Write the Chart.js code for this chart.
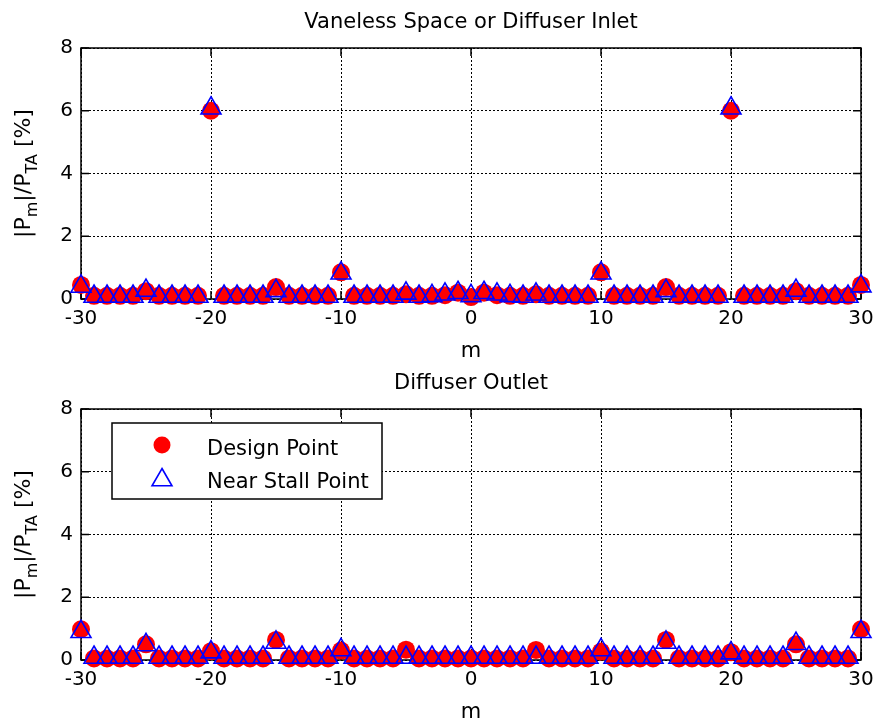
<!DOCTYPE html>
<html>
<head>
<meta charset="utf-8">
<script src="https://cdn.jsdelivr.net/npm/chart.js@4.4.1/dist/chart.umd.min.js"></script>
<style>
  html, body { margin: 0; padding: 0; background: #fff; overflow: hidden; width: 883px; height: 725px; }
  canvas { position: absolute; left: 0; }
  #inlet { top: 0; }
  #outlet { top: 361px; }
</style>
</head>
<body>
<canvas id="inlet" width="883" height="383"></canvas>
<canvas id="outlet" width="883" height="383"></canvas>
<script>
// circumferential mode number m
const modes = [-30, -29, -28, -27, -26, -25, -24, -23, -22, -21, -20, -19, -18, -17, -16, -15,
  -14, -13, -12, -11, -10, -9, -8, -7, -6, -5, -4, -3, -2, -1, 0, 1, 2, 3, 4, 5, 6, 7, 8, 9,
  10, 11, 12, 13, 14, 15, 16, 17, 18, 19, 20, 21, 22, 23, 24, 25, 26, 27, 28, 29, 30];
const xTicks = [-30, -20, -10, 0, 10, 20, 30];
const yTicks = [0, 2, 4, 6, 8];

// |Pm|/PTA [%], vaneless space / diffuser inlet
const inletDesign = [0.45, 0.10, 0.10, 0.10, 0.10, 0.25, 0.10, 0.10, 0.10, 0.10, 6.00, 0.10, 0.10, 0.10, 0.10, 0.38,
  0.10, 0.10, 0.10, 0.10, 0.85, 0.10, 0.10, 0.10, 0.10, 0.15, 0.10, 0.10, 0.12, 0.20, 0.06, 0.20, 0.12, 0.10, 0.10, 0.15,
  0.10, 0.10, 0.10, 0.10, 0.85, 0.10, 0.10, 0.10, 0.10, 0.38, 0.10, 0.10, 0.10, 0.10, 6.00, 0.10, 0.10, 0.10, 0.10, 0.25,
  0.10, 0.10, 0.10, 0.10, 0.45];
const inletStall = [0.40, 0.08, 0.08, 0.08, 0.08, 0.27, 0.08, 0.08, 0.08, 0.08, 6.08, 0.08, 0.08, 0.08, 0.08, 0.26,
  0.08, 0.08, 0.08, 0.08, 0.82, 0.08, 0.08, 0.08, 0.08, 0.18, 0.08, 0.10, 0.15, 0.20, 0.10, 0.20, 0.15, 0.10, 0.08, 0.15,
  0.08, 0.08, 0.08, 0.08, 0.82, 0.08, 0.08, 0.08, 0.08, 0.26, 0.08, 0.08, 0.08, 0.08, 6.08, 0.08, 0.08, 0.08, 0.08, 0.27,
  0.08, 0.08, 0.08, 0.08, 0.41];

// diffuser outlet
const outletDesign = [0.98, 0.05, 0.05, 0.05, 0.05, 0.50, 0.05, 0.05, 0.05, 0.05, 0.28, 0.05, 0.05, 0.05, 0.05, 0.64,
  0.05, 0.05, 0.05, 0.05, 0.30, 0.05, 0.05, 0.05, 0.05, 0.33, 0.05, 0.05, 0.05, 0.05, 0.05, 0.05, 0.05, 0.05, 0.05, 0.32,
  0.05, 0.05, 0.05, 0.05, 0.27, 0.05, 0.05, 0.05, 0.05, 0.64, 0.05, 0.05, 0.05, 0.05, 0.25, 0.05, 0.05, 0.05, 0.05, 0.50,
  0.05, 0.05, 0.05, 0.05, 0.98];
const outletStall = [0.90, 0.08, 0.08, 0.08, 0.08, 0.48, 0.08, 0.08, 0.08, 0.08, 0.25, 0.08, 0.08, 0.08, 0.08, 0.56,
  0.08, 0.08, 0.08, 0.08, 0.32, 0.08, 0.08, 0.08, 0.08, 0.08, 0.08, 0.08, 0.08, 0.08, 0.08, 0.08, 0.08, 0.08, 0.08, 0.08,
  0.08, 0.08, 0.08, 0.08, 0.32, 0.08, 0.08, 0.08, 0.08, 0.56, 0.08, 0.08, 0.08, 0.08, 0.22, 0.08, 0.08, 0.08, 0.08, 0.52,
  0.08, 0.08, 0.08, 0.08, 0.90];

const FONT = '"DejaVu Sans", "Liberation Sans", Arial, sans-serif';
const RED = '#ff0000';
const BLUE = '#0000ff';

// MATLAB style box with inward ticks
const frame = {
  id: 'frame',
  beforeDatasetsDraw(chart) {
    const { ctx, chartArea: a, scales: { x, y } } = chart;
    ctx.save();
    ctx.strokeStyle = '#000';
    ctx.lineWidth = 1.5;
    ctx.strokeRect(a.left, a.top, a.right - a.left, a.bottom - a.top);
    ctx.beginPath();
    xTicks.forEach(v => {
      const px = x.getPixelForValue(v);
      ctx.moveTo(px, a.bottom); ctx.lineTo(px, a.bottom - 8);
      ctx.moveTo(px, a.top); ctx.lineTo(px, a.top + 8);
    });
    yTicks.forEach(v => {
      const py = y.getPixelForValue(v);
      ctx.moveTo(a.left, py); ctx.lineTo(a.left + 8, py);
      ctx.moveTo(a.right, py); ctx.lineTo(a.right - 8, py);
    });
    ctx.stroke();
    ctx.restore();
  },
  // y label with subscripts: |P_m|/P_TA [%]
  afterDraw(chart) {
    const { ctx, chartArea: a } = chart;
    const parts = [['|P', false], ['m', true], ['|/P', false], ['TA', true], [' [%]', false]];
    const big = '22px ' + FONT, small = '16px ' + FONT;
    ctx.save();
    let total = 0;
    parts.forEach(p => { ctx.font = p[1] ? small : big; total += ctx.measureText(p[0]).width; });
    ctx.translate(30, (a.top + a.bottom) / 2);
    ctx.rotate(-Math.PI / 2);
    ctx.fillStyle = '#000';
    ctx.textBaseline = 'alphabetic';
    let cx = -total / 2;
    parts.forEach(p => {
      ctx.font = p[1] ? small : big;
      ctx.fillText(p[0], cx, p[1] ? 7 : 0);
      cx += ctx.measureText(p[0]).width;
    });
    ctx.restore();
  }
};

const legendBox = {
  id: 'legendBox',
  afterDraw(chart) {
    const { ctx, chartArea: a } = chart;
    const bx = a.left + 31, by = a.top + 14;
    ctx.save();
    ctx.fillStyle = '#fff';
    ctx.fillRect(bx, by, 270, 76);
    ctx.strokeStyle = '#000';
    ctx.lineWidth = 1.5;
    ctx.strokeRect(bx, by, 270, 76);
    // circle
    ctx.fillStyle = RED;
    ctx.beginPath();
    ctx.arc(a.left + 81, a.top + 36, 8.5, 0, Math.PI * 2);
    ctx.fill();
    // triangle
    const tx = a.left + 81, ty = a.top + 71, r = 11.5;
    ctx.strokeStyle = BLUE;
    ctx.lineWidth = 1.6;
    ctx.beginPath();
    ctx.moveTo(tx, ty - r);
    ctx.lineTo(tx + r * Math.sin(Math.PI * 2 / 3), ty + r / 2);
    ctx.lineTo(tx - r * Math.sin(Math.PI * 2 / 3), ty + r / 2);
    ctx.closePath();
    ctx.stroke();
    ctx.fillStyle = '#000';
    ctx.font = '21px ' + FONT;
    ctx.textBaseline = 'alphabetic';
    ctx.fillText(chart.data.datasets[0].label, a.left + 126, a.top + 46);
    ctx.fillText(chart.data.datasets[1].label, a.left + 126, a.top + 79);
    ctx.restore();
  }
};

function makeChart(id, title, design, stall, extraPlugins) {
  return new Chart(document.getElementById(id), {
    type: 'scatter',
    data: {
      datasets: [
        {
          label: 'Design Point',
          data: modes.map((m, i) => ({ x: m, y: design[i] })),
          pointStyle: 'circle',
          pointRadius: 9,
          backgroundColor: RED,
          borderColor: RED,
          pointBorderWidth: 0,
          order: 2,
          clip: false
        },
        {
          label: 'Near Stall Point',
          data: modes.map((m, i) => ({ x: m, y: stall[i] })),
          pointStyle: 'triangle',
          pointRadius: 11.5,
          backgroundColor: 'rgba(0,0,0,0)',
          borderColor: BLUE,
          pointBorderWidth: 1.6,
          order: 1,
          clip: false
        }
      ]
    },
    options: {
      responsive: false,
      animation: false,
      devicePixelRatio: 1,
      events: [],
      layout: { padding: { left: 0, right: 22, top: 0, bottom: 0 } },
      plugins: {
        legend: { display: false },
        tooltip: { enabled: false },
        title: {
          display: true,
          text: title,
          fullSize: false,
          color: '#000',
          font: { family: FONT, size: 21, weight: 'normal' },
          padding: { top: 10, bottom: 12.8 }
        }
      },
      scales: {
        x: {
          type: 'linear',
          min: -30,
          max: 30,
          afterFit(s) { s.height = 84; },
          afterBuildTicks(s) { s.ticks = xTicks.map(v => ({ value: v })); },
          ticks: { color: '#000', padding: 8, font: { family: FONT, size: 20 } },
          grid: { color: '#000', lineWidth: 1, drawTicks: false },
          border: { display: false, dash: [2, 2] },
          title: {
            display: true,
            text: 'm',
            color: '#000',
            font: { family: FONT, size: 21 },
            padding: { top: 0, bottom: 19 }
          }
        },
        y: {
          min: 0,
          max: 8,
          afterFit(s) { s.width = 81; },
          afterBuildTicks(s) { s.ticks = yTicks.map(v => ({ value: v })); },
          ticks: { color: '#000', padding: 8, font: { family: FONT, size: 20 } },
          grid: { color: '#000', lineWidth: 1, drawTicks: false },
          border: { display: false, dash: [2, 2] }
        }
      }
    },
    plugins: [frame].concat(extraPlugins)
  });
}

makeChart('inlet', 'Vaneless Space or Diffuser Inlet', inletDesign, inletStall, []);
makeChart('outlet', 'Diffuser Outlet', outletDesign, outletStall, [legendBox]);
</script>
</body>
</html>
